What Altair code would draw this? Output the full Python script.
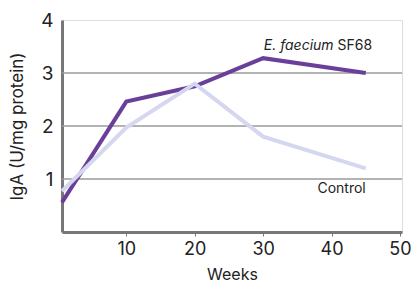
import altair as alt
import pandas as pd

weeks = [0.6, 10, 20, 30, 45]
sf68 = [0.56, 2.46, 2.75, 3.28, 3.0]
control = [0.77, 1.97, 2.8, 1.8, 1.2]
grid_vals = [1, 2, 3]

df = pd.DataFrame({
    "week": weeks * 2,
    "iga": sf68 + control,
    "group": ["E. faecium SF68"] * len(weeks) + ["Control"] * len(weeks),
})

FONT = "Inter"
xs = alt.Scale(domain=[0.6, 50.3], nice=False, zero=False)
ys = alt.Scale(domain=[0, 4], nice=False)

base = alt.Chart(df)

grid = alt.Chart(pd.DataFrame({"g": grid_vals})).mark_rule(color="#9a9a9a", strokeWidth=1.5).encode(
    y=alt.Y("g:Q", scale=ys)
)

lines = base.mark_line(strokeWidth=4, strokeCap="butt").encode(
    x=alt.X("week:Q", scale=xs, title="Weeks",
            axis=alt.Axis(values=[10, 20, 30, 40, 50], format="d", grid=False, domainColor="#777777",
                          domainWidth=3, tickColor="#777777", tickSize=4, tickWidth=1,
                          labelFontSize=18, labelColor="#222222", labelPadding=4,
                          titleFontSize=16, titleFontWeight="normal", titleColor="#222222",
                          titlePadding=8, labelFont=FONT, titleFont=FONT)),
    y=alt.Y("iga:Q", scale=ys, title="IgA (U/mg protein)",
            axis=alt.Axis(values=[1, 2, 3, 4], format="d", grid=False, domainColor="#777777",
                          domainWidth=3, ticks=False, labelFontSize=19, labelColor="#222222",
                          labelPadding=9, titleFontSize=17, titleFontWeight="normal",
                          titleColor="#222222", titlePadding=14, labelFont=FONT, titleFont=FONT)),
    color=alt.Color("group:N", scale=alt.Scale(domain=["E. faecium SF68", "Control"],
                                               range=["#6a3f9a", "#d5d7f0"]), legend=None),
    detail="group:N",
)

ann = pd.DataFrame({
    "x": [40.3, 40.3, 45.0],
    "y": [3.51, 3.51, 0.82],
    "t": ["E. faecium", "SF68", "Control"],
})

t1 = alt.Chart(ann.iloc[[0]]).mark_text(font=FONT, fontSize=14, fontStyle="italic", align="right",
                                         color="#222222").encode(
    x=alt.X("x:Q", scale=xs), y=alt.Y("y:Q", scale=ys), text="t:N")
t2 = alt.Chart(ann.iloc[[1]]).mark_text(font=FONT, fontSize=14, align="left", dx=4,
                                         color="#222222").encode(
    x=alt.X("x:Q", scale=xs), y=alt.Y("y:Q", scale=ys), text="t:N")
t3 = alt.Chart(ann.iloc[[2]]).mark_text(font=FONT, fontSize=14, align="right", color="#222222").encode(
    x=alt.X("x:Q", scale=xs), y=alt.Y("y:Q", scale=ys), text="t:N")

chart = alt.layer(grid, lines, t1, t2, t3).properties(
    width=340, height=212,
    autosize=alt.AutoSizeParams(type="none"),
    padding={"left": 54, "top": 12, "right": 9, "bottom": 53},
).configure_view(stroke=None).configure(background="white")

chart.save("out.html", embed_options={"renderer": "svg", "actions": False})
